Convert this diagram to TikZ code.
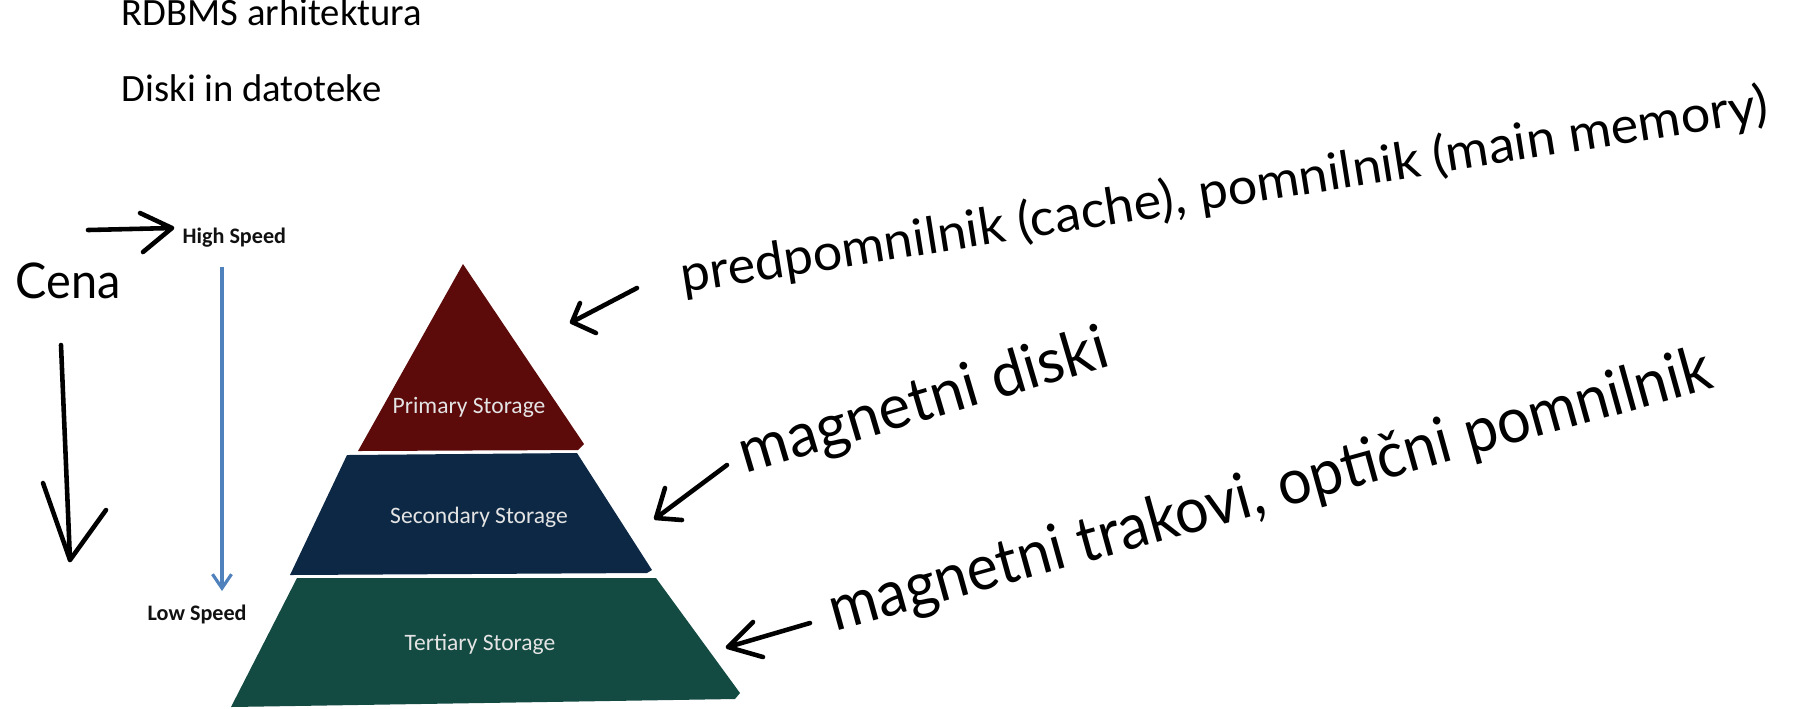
\documentclass[tikz,border=0pt]{standalone}
\usepackage{fontspec}
\usepackage{graphicx}
\setmainfont{Carlito}
\newfontfamily\hand{Lato}
\usetikzlibrary{arrows.meta}
\definecolor{primc}{HTML}{5C0A0A}
\definecolor{secc}{HTML}{0C2844}
\definecolor{terc}{HTML}{134A42}
\definecolor{labc}{HTML}{E4E4E4}
\definecolor{speedc}{HTML}{4F81BD}
\definecolor{inkc}{HTML}{111111}
\begin{document}
\begin{tikzpicture}[x=0.1mm,y=-0.1mm,
  title/.style={anchor=base west,inner sep=0pt,font=\fontsize{11}{13}\selectfont},
  speedlab/.style={anchor=base west,inner sep=0pt,text=inkc,font=\bfseries\fontsize{6.3}{7.5}\selectfont},
  layerlab/.style={inner sep=0pt,text=labc,font=\fontsize{6.7}{8}\selectfont},
  hw/.style={anchor=base west,inner sep=0pt,text=black},
  inkline/.style={draw=black,line width=1.3pt,line cap=round,line join=round},
  speedarrow/.style={draw=speedc,line width=0.9pt,-{Straight Barb[length=1.4mm,width=1.9mm,line width=0.9pt]}}
]
\useasboundingbox (0,0) rectangle (1804,708);

% titles
\node[title] (t1) at (121,25) {RDBMS arhitektura};
\node[title] (t2) at (121,101) {Diski in datoteke};

% pyramid
\fill[primc] (463,264) -- (584,444) -- (578,450) -- (358,451) -- cycle;
\fill[secc] (347,455) -- (577,453) -- (652,570) -- (647,573) -- (290,575) -- cycle;
\fill[terc] (297,578) -- (656,578) -- (740,693) -- (735,699) -- (231,707) -- cycle;
\node[layerlab] (p1) at (469,407) {Primary Storage};
\node[layerlab] (p2) at (479,517) {Secondary Storage};
\node[layerlab] (p3) at (480,644) {Tertiary Storage};

% speed scale
\node[speedlab] (hs) at (182,243) {High Speed};
\node[speedlab] (ls) at (147,620) {Low Speed};
\coordinate (b1) at (222,267);
\coordinate (b2) at (222,591);
\draw[speedarrow] (b1) -- (b2);

% Cena
\node[hw] (cena) at (15,298) {\resizebox{10.5mm}{\height}{\fontsize{14}{16}\hand Cena}};
\coordinate (ca0) at (88,230);
\coordinate (ca1) at (172,228);
\coordinate (ca2) at (140,213);
\coordinate (ca3) at (143,252);
\draw[inkline] (ca0) -- (ca1) (ca2) -- (ca1) -- (ca3);
\coordinate (cd0) at (61,345);
\coordinate (cd1) at (70,560);
\coordinate (cd2) at (43,483);
\coordinate (cd3) at (106,510);
\draw[inkline] (cd0) -- (cd1) (cd2) -- (cd1) -- (cd3);

% annotation 1
\coordinate (a1t) at (637,288);
\coordinate (a1h) at (572,322);
\coordinate (a1u) at (580,303);
\coordinate (a1l) at (596,333);
\draw[inkline] (a1t) -- (a1h) (a1u) -- (a1h) -- (a1l);
\node[hw,rotate=9] (n1) at (683,293) {\resizebox{110mm}{\height}{\fontsize{14.5}{17}\hand predpomnilnik (cache), pomnilnik (main memory)}};

% annotation 2
\coordinate (a2t) at (727,465);
\coordinate (a2h) at (656,518);
\coordinate (a2u) at (665,488);
\coordinate (a2l) at (682,520);
\draw[inkline] (a2t) -- (a2h) (a2u) -- (a2h) -- (a2l);
\node[hw,rotate=16.5] (n2) at (745,474) {\resizebox{38.2mm}{\height}{\fontsize{17.5}{20}\hand magnetni diski}};

% annotation 3
\coordinate (a3t) at (810,623);
\coordinate (a3h) at (728,647);
\coordinate (a3u) at (753,622);
\coordinate (a3l) at (763,657);
\draw[inkline] (a3t) -- (a3h) (a3u) -- (a3h) -- (a3l);
\node[hw,rotate=15.5] (n3) at (835,632) {\resizebox{91.3mm}{\height}{\fontsize{18}{21}\hand magnetni trakovi, optični pomnilnik}};

\end{tikzpicture}
\end{document}
